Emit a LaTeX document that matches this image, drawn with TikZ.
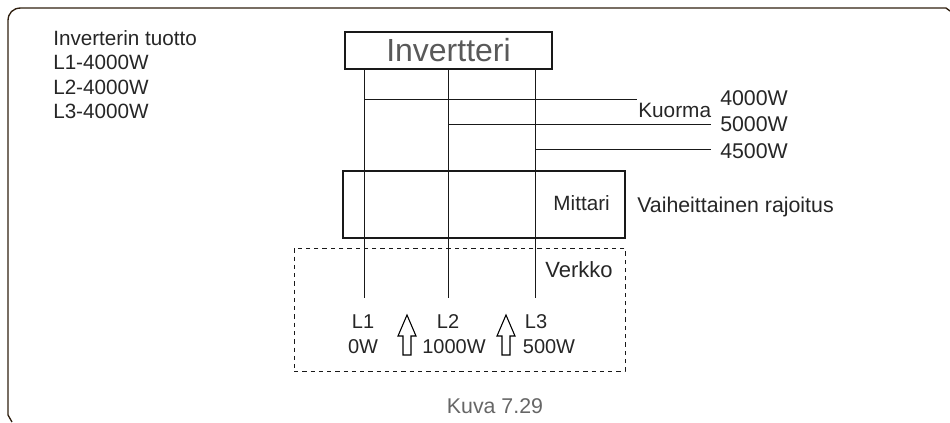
\documentclass[tikz,border=0pt]{standalone}
\usepackage{fontspec}
\setmainfont{Liberation Sans}
\usetikzlibrary{positioning}
\tikzset{
	wire/.style={black!90, line width=0.75pt},
	panel/.style={draw=black!90, line width=0.85pt, inner sep=0pt},
	lbl/.style={inner sep=0pt, text=black!85, font=\fontsize{15}{15}\selectfont, align=center},
	lblbig/.style={lbl, font=\fontsize{16}{16}\selectfont},
	uparrow/.style={draw=black, line width=0.8pt, fill=white}
}
\begin{document}
\begin{tikzpicture}[x=0.75pt, y=-0.75pt]
	\useasboundingbox (0,0) rectangle (950,422);
	% frame
	\draw[black!75!brown, line width=1pt] (12,422) -- (8,415) -- (8,21) .. controls (8,13) and (13,8) .. (21,8) -- (946,8) -- (950,11);
	% boxes
	\node[panel, minimum width=155.25pt, minimum height=27.75pt, text=black!65, font=\fontsize{24}{24}\selectfont] (inv) at (448.5,50.5) {Invertteri};
	\node[panel, minimum width=211.5pt, minimum height=50.25pt] (meter) at (484,204.5) {};
	\node[panel, line width=0.7pt, dash pattern=on 3.2pt off 3pt, minimum width=248.25pt, minimum height=92.25pt] (grid) at (459.5,309.5) {};
	% corner text
	\node[lbl, anchor=north west, align=left, font=\fontsize{15.5}{18.3}\selectfont] (title) at (53,30) {Inverterin tuotto\\L1-4000W\\L2-4000W\\L3-4000W};
	% phases
	\coordinate (e1) at (364,298);
	\coordinate (e2) at (448,298);
	\coordinate (e3) at (535,298);
	\foreach \n in {1,2,3} {\draw[wire] (inv.south -| e\n) -- (e\n);}
	% loads
	\coordinate (t1) at (637,99);
	\coordinate (t2) at (711,124);
	\coordinate (t3) at (711,149);
	\draw[wire] (e1 |- t1) -- (t1);
	\draw[wire] (e2 |- t2) -- (t2);
	\draw[wire] (e3 |- t3) -- (t3);
	\node[lbl, anchor=west, font=\fontsize{15.6}{15.6}\selectfont] (load) at (638,110) {Kuorma};
	\node[lblbig, anchor=west] (w1) at (720,98) {4000W};
	\node[lblbig, anchor=west] (w2) at (720,124) {5000W};
	\node[lblbig, anchor=west] (w3) at (720,151) {4500W};
	% meter and grid
	\node[lbl, anchor=east, font=\fontsize{15.5}{15.5}\selectfont] (mit) at (610,203) {Mittari};
	\node[lblbig, anchor=west] (lim) at (637,207) {Vaiheittainen rajoitus};
	\node[lblbig, font=\fontsize{16.5}{16.5}\selectfont] (net) at (579,270) {Verkko};
	\node[lbl] (a1) at (363,322) {L1};
	\node[lbl] (a2) at (448,322) {L2};
	\node[lbl] (a3) at (536,322) {L3};
	\node[lbl] (p1) at (363,347) {0W};
	\node[lbl] (p2) at (454,347) {1000W};
	\node[lbl] (p3) at (549,347) {500W};
	\foreach \x in {407,506} {
		\draw[uparrow] (\x,315) -- (\x+9,336) -- (\x+4,336) -- (\x+4,355) -- (\x-4,355) -- (\x-4,336) -- (\x-9,336) -- cycle;
	}
	\node[lblbig, text=black!60] (cap) at (495,406) {Kuva 7.29};
\end{tikzpicture}
\end{document}
